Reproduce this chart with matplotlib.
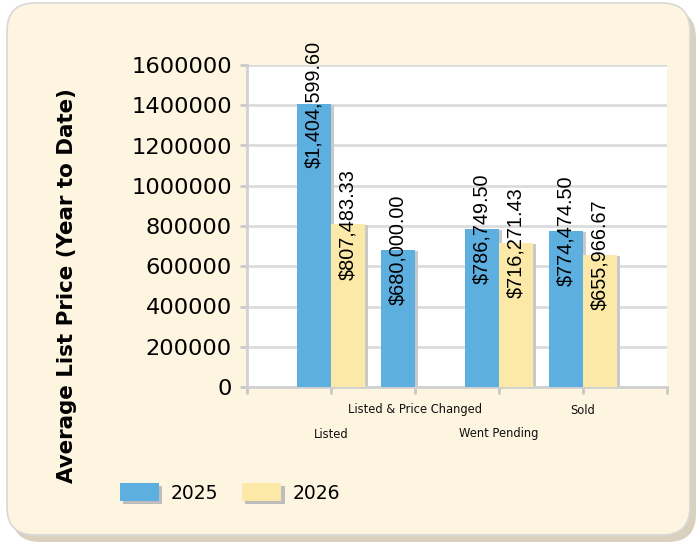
import numpy as np
import matplotlib
matplotlib.use("Agg")
import matplotlib.pyplot as plt
from matplotlib.patches import FancyBboxPatch, Patch
import matplotlib.patheffects as pe
import matplotlib.transforms as mtrans

categories = ["Listed", "Listed & Price Changed", "Went Pending", "Sold"]
series_names = ["2025", "2026"]
values_2025 = [1404599.60, 680000.00, 786749.50, 774474.50]
values_2026 = [807483.33, np.nan, 716271.43, 655966.67]
yticks = [0, 200000, 400000, 600000, 800000, 1000000, 1200000, 1400000, 1600000]
ylabel = "Average List Price (Year to Date)"

c2025 = "#5DAFDF"
c2026 = "#FCE8A7"

W, H = 698, 544
fig = plt.figure(figsize=(W / 100, H / 100), dpi=100)
fig.patch.set_facecolor("white")

# rounded panel background
shadow = FancyBboxPatch((12 / W, 2 / H), 684 / W, 532 / H,
                        boxstyle="round,pad=0,rounding_size=0.04",
                        transform=fig.transFigure, facecolor="#D9D1BE",
                        edgecolor="none", zorder=-10, mutation_aspect=W / H)
panel = FancyBboxPatch((7 / W, 9 / H), 683 / W, 532 / H,
                       boxstyle="round,pad=0,rounding_size=0.04",
                       transform=fig.transFigure, facecolor="#FDF5DF",
                       edgecolor="#D8D8D8", linewidth=1.2, zorder=-9,
                       mutation_aspect=W / H)
fig.patches.extend([shadow, panel])

ax = fig.add_axes([247 / W, 157 / H, 420 / W, 322 / H])
ax.set_zorder(1)
ax.set_facecolor("white")

x = np.arange(len(categories))
bw = 0.405
shadow_tr = mtrans.offset_copy(ax.transData, fig=fig, x=2.5, y=-1, units="dots")
for vals, off in ((values_2025, -bw / 2), (values_2026, bw / 2)):
    ax.bar(x + off, vals, bw, color="#C9C9C9", transform=shadow_tr, zorder=2)
b1 = ax.bar(x - bw / 2, values_2025, bw, color=c2025, zorder=3)
b2 = ax.bar(x + bw / 2, values_2026, bw, color=c2026, zorder=3)

for vals, off in ((values_2025, -bw / 2), (values_2026, bw / 2)):
    for xi, v in zip(x, vals):
        if np.isnan(v):
            continue
        ax.text(xi + off, v, f"${v:,.2f}", rotation=90, ha="center",
                va="center", fontsize=14.3, family="Liberation Sans",
                color="black", zorder=5, clip_on=False)

ax.set_xlim(-1, 4)
ax.set_ylim(0, 1600000)
ax.set_yticks(yticks)
ax.set_yticklabels([str(t) for t in yticks], fontsize=16.2, family="DejaVu Sans")
ax.set_xticks(np.arange(-1, 5))
ax.set_xticklabels([])
ax.tick_params(axis="both", colors="#C8C8C8", length=5, width=2)
ax.tick_params(axis="y", labelcolor="black", pad=6)
ax.grid(axis="y", color="#DCDCDC", linewidth=2)
ax.set_axisbelow(True)
for s in ("top", "right"):
    ax.spines[s].set_visible(False)
for s in ("left", "bottom"):
    ax.spines[s].set_color("#D0D0D0")
    ax.spines[s].set_linewidth(2)

for i, cat in enumerate(categories):
    dy = -23 if i % 2 == 1 else -47
    ax.annotate(cat, xy=(i, 0), xycoords=("data", "axes fraction"),
                xytext=(0, dy), textcoords="offset pixels", ha="center",
                va="center", fontsize=8.3, color="#111111", family="DejaVu Sans",
                annotation_clip=False)

fig.text(67 / W, 1 - 285.5 / H, ylabel, rotation=90, ha="center", va="center",
         fontsize=15.4, fontweight="bold", family="DejaVu Sans")

handles = [Patch(facecolor=c2025, edgecolor="none",
                 path_effects=[pe.SimplePatchShadow(offset=(2.5, -2), shadow_rgbFace="#BDBDBD", alpha=1), pe.Normal()]),
           Patch(facecolor=c2026, edgecolor="none",
                 path_effects=[pe.SimplePatchShadow(offset=(2.5, -2), shadow_rgbFace="#BDBDBD", alpha=1), pe.Normal()])]
fig.legend(handles, series_names, loc="center left",
           bbox_to_anchor=(112 / W, 1 - 493 / H), ncol=2, frameon=False,
           fontsize=13.5, handlelength=2.1, handleheight=1.1,
           handletextpad=0.6, columnspacing=1.3, borderaxespad=0)

fig.savefig("out.png", dpi=100, facecolor="white")
